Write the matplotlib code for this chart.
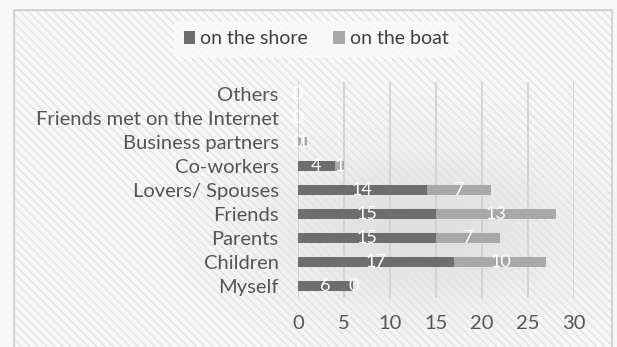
import matplotlib
matplotlib.use("Agg")
import matplotlib.pyplot as plt
from matplotlib.patches import Rectangle
import numpy as np

categories = ["Myself", "Children", "Parents", "Friends", "Lovers/ Spouses",
              "Co-workers", "Business partners", "Friends met on the Internet", "Others"]
shore = [6, 17, 15, 15, 14, 4, 0, 0, 0]
boat = [0, 10, 7, 13, 7, 1, 1, 0, 0]
xticks = [0, 5, 10, 15, 20, 25, 30]

plt.rcParams['font.family'] = ['Lato', 'DejaVu Sans']
plt.rcParams['hatch.color'] = '#e6e6e6'
plt.rcParams['hatch.linewidth'] = 1.0

fig = plt.figure(figsize=(6.17, 3.47), dpi=100)
fig.patch.set_facecolor('#f4f4f4')

# soft darker shading behind plot area
bg = fig.add_axes([0, 0, 1, 1], zorder=-20)
bg.set_axis_off()
gx, gy = np.meshgrid(np.linspace(0, 617, 200), np.linspace(0, 347, 120))
shade = np.exp(-(((gx - 420) / 150) ** 2 + ((gy - 230) / 80) ** 2))
img = 0.975 - 0.10 * shade
bg.imshow(np.dstack([img, img, img]), extent=[0, 617, 347, 0], aspect='auto')
bg.set_xlim(0, 617)
bg.set_ylim(347, 0)
bg.add_patch(Rectangle((14, 10), 598, 340, facecolor='none', edgecolor='#e2e2e2',
                       lw=1.0, hatch='\\\\\\\\'))
bg.add_patch(Rectangle((14, 10), 598, 340, facecolor='none', edgecolor='#cfcfcf', lw=1.2))

ax = fig.add_axes([298/617, 1 - 298/347, 276/617, 216/347])
ax.set_facecolor('none')
y = np.arange(len(categories))
h = 0.42
b1 = ax.barh(y, shore, height=h, color='#6e6e6e', label='on the shore', zorder=3)
b2 = ax.barh(y, boat, left=shore, height=h, color='#a8a8a8', label='on the boat', zorder=3)
for i in range(len(categories)):
    ax.text(shore[i] / 2, y[i], str(shore[i]), color='white', ha='center', va='center',
            fontsize=13, zorder=4)
    ax.text(shore[i] + boat[i] / 2, y[i], str(boat[i]), color='white', ha='center', va='center',
            fontsize=13, zorder=4)

ax.set_xlim(0, 30)
ax.set_ylim(-0.5, len(categories) - 0.5)
ax.set_xticks(xticks)
ax.set_xticklabels([str(t) for t in xticks])
ax.set_yticks(y)
ax.set_yticklabels(categories)
ax.grid(axis='x', color='#cfcfcf', lw=1.2, zorder=0)
ax.tick_params(axis='y', length=0, labelsize=14.5, colors='#555555', pad=14)
ax.tick_params(axis='x', length=0, labelsize=14.5, colors='#555555', pad=12)
for s in ax.spines.values():
    s.set_visible(False)
ax.axvline(0, color='#d9d9d9', lw=1.2, zorder=1)

leg = fig.legend(handles=[b1, b2], loc='center', bbox_to_anchor=(316/617, 1 - 39/347),
                 ncol=2, frameon=True, fontsize=14, handlelength=0.6, handleheight=0.6,
                 handletextpad=0.25, columnspacing=1.3, borderpad=0.5)
leg.get_frame().set_facecolor('#fafafa')
leg.get_frame().set_edgecolor('none')
for t in leg.get_texts():
    t.set_color('#404040')

fig.savefig('out.png', dpi=100, facecolor=fig.get_facecolor())
